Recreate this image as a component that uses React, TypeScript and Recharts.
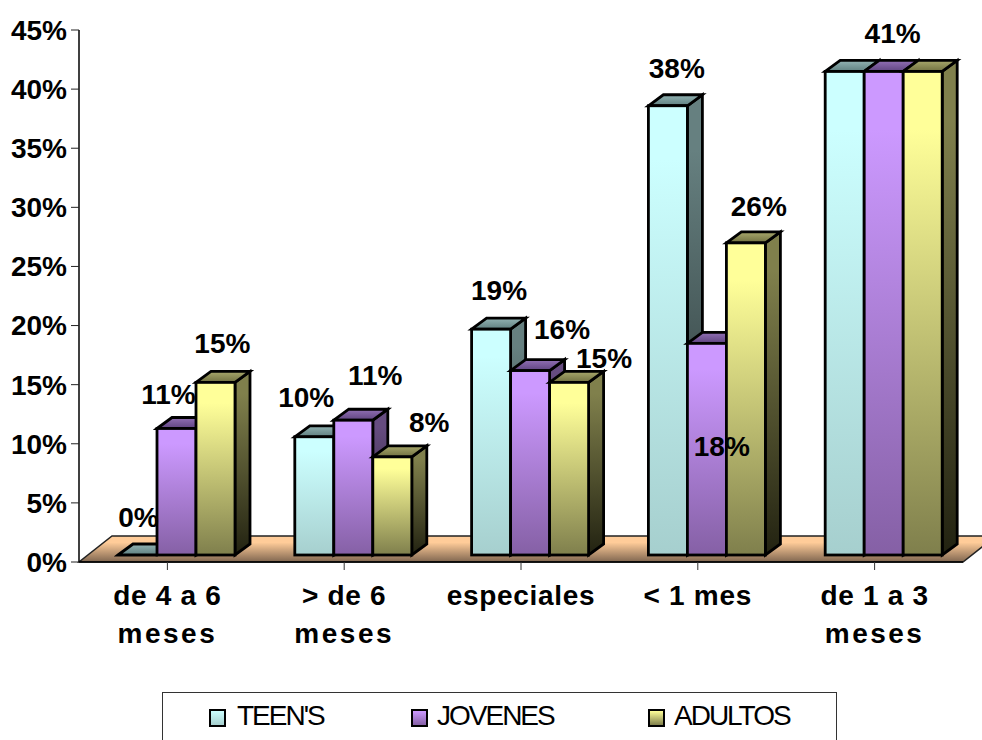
import { Bar, ComposedChart, Legend, Line, ReferenceArea, XAxis, YAxis } from 'recharts';

const categories = ['de 4 a 6 meses', '> de 6 meses', 'especiales', '< 1 mes', 'de 1 a 3 meses'];
const tickLines = [['de 4 a 6', 'meses'], ['> de 6', 'meses'], ['especiales'], ['< 1 mes'], ['de 1 a 3', 'meses']];
const yTicks = [0, 5, 10, 15, 20, 25, 30, 35, 40, 45];
const teens = [0, 10, 19.1, 38, 40.9];
const jovenes = [10.7, 11.4, 15.6, 17.9, 40.9];
const adultos = [14.6, 8.3, 14.6, 26.4, 40.9];

// hand placed labels, offset from the category centre and the value height
const teensNudge = [[-29, -45], [-38, -46], [-22, -46], [-21, -44], null];
const jovenesNudge = [[1, -41], [31, -52], [41, -48], [24, 96], [18, -45]];
const adultosNudge = [[55, -46], [85, -41], [83, -31], [61, -43], null];

const data = categories.map((name, i) => ({
  name,
  teens: teens[i],
  jovenes: jovenes[i],
  adultos: adultos[i],
}));

const FONT = '"Liberation Sans", Arial, sans-serif';
const DEPTH_X = 15;
const DEPTH_Y = 11;
const BAR_SHIFT_X = 9;
const BAR_SHIFT_Y = -7;

const palettes = [
  { id: 'teens', front: ['#CCFFFF', '#A6CFCE'], side: ['#668080', '#222B2B'], top: ['#93B3B3', '#5F8080'] },
  { id: 'jovenes', front: ['#CC99FF', '#8560A5'], side: ['#664C80', '#221A2B'], top: ['#9270B5', '#5F4480'] },
  { id: 'adultos', front: ['#FFFF99', '#7F7F4C'], side: ['#80804C', '#222211'], top: ['#A8A86C', '#707040'] },
];

const Gradient = ({ id, colors, hold = 0 }: any) => (
  <linearGradient id={id} x1="0" y1="0" x2="0" y2="1">
    <stop offset={hold} stopColor={colors[0]} />
    <stop offset="1" stopColor={colors[1]} />
  </linearGradient>
);

const Bar3D = (props: any) => {
  const { x, y, width, height, paletteId } = props;
  const left = x + BAR_SHIFT_X;
  const right = left + width;
  const top = y + BAR_SHIFT_Y;
  const bottom = top + height;
  const line = { stroke: '#000', strokeWidth: 2.8, strokeLinejoin: 'miter' as const };
  return (
    <g>
      <polygon
        points={`${right},${top} ${right + DEPTH_X},${top - DEPTH_Y} ${right + DEPTH_X},${bottom - DEPTH_Y} ${right},${bottom}`}
        fill={`url(#${paletteId}-side)`}
        {...line}
      />
      <polygon
        points={`${left},${top} ${left + DEPTH_X},${top - DEPTH_Y} ${right + DEPTH_X},${top - DEPTH_Y} ${right},${top}`}
        fill={`url(#${paletteId}-top)`}
        {...line}
      />
      <rect x={left} y={top} width={width} height={height} fill={`url(#${paletteId}-front)`} {...line} />
    </g>
  );
};

const Floor = (props: any) => {
  const { x, y, width, height } = props;
  const bottom = y + height;
  return (
    <polygon
      points={`${x},${bottom} ${x + width},${bottom} ${x + width + 33},${y} ${x + 33},${y}`}
      fill="url(#floor)"
      stroke="#222"
      strokeWidth={1.5}
    />
  );
};

const XTick = ({ x, y, index }: any) => (
  <g>
    {tickLines[index].map((t, i) => (
      <text
        key={t}
        x={x}
        y={y + 32.5 + i * 38}
        textAnchor="middle"
        fontFamily={FONT}
        fontWeight={700}
        fontSize={28}
        letterSpacing={t === 'meses' ? 2.5 : 0.7}
        fill="#000"
      >
        {t}
      </text>
    ))}
  </g>
);

const makeLabel = (nudges: any[]) => ({ x, y, value, index }: any) => {
  const nudge = nudges[index];
  if (!nudge) return null;
  return (
    <text
      x={x + nudge[0]}
      y={y + nudge[1]}
      textAnchor="middle"
      dominantBaseline="central"
      fontFamily={FONT}
      fontWeight={700}
      fontSize={28}
      fill="#000"
    >
      {Math.round(value)}%
    </text>
  );
};

const legendItems = [
  { name: "TEEN'S", swatch: 46, text: 74, colors: palettes[0].front },
  { name: 'JOVENES', swatch: 248, text: 274, colors: palettes[1].front },
  { name: 'ADULTOS', swatch: 485, text: 511, colors: palettes[2].front },
];

const LegendBox = () => (
  <div style={{ position: 'relative', width: 675, height: 60, border: '1px solid #333', boxSizing: 'border-box', background: '#fff' }}>
    {legendItems.map((item) => (
      <div key={item.name}>
        <span
          style={{
            position: 'absolute',
            left: item.swatch,
            top: 16,
            width: 13,
            height: 14,
            border: '2px solid #000',
            background: `linear-gradient(${item.colors[0]}, ${item.colors[1]})`,
          }}
        />
        <span
          style={{
            position: 'absolute',
            left: item.text,
            top: 5,
            fontFamily: FONT,
            fontSize: 28,
            lineHeight: '36px',
            letterSpacing: -2,
            color: '#000',
            whiteSpace: 'nowrap',
          }}
        >
          {item.name}
        </span>
      </div>
    ))}
  </div>
);

export default function App() {
  return (
    <div style={{ position: 'absolute', left: 0, top: 0, width: 982, height: 740, overflow: 'hidden', background: '#fff' }}>
      <ComposedChart
        width={982}
        height={740}
        data={data}
        margin={{ top: 30, right: 19, bottom: 88, left: 0 }}
        barSize={39}
        barGap={0}
      >
        <defs>
          {palettes.map((p) => (
            <g key={p.id}>
              <Gradient id={`${p.id}-front`} colors={p.front} hold={0.12} />
              <Gradient id={`${p.id}-side`} colors={p.side} hold={0.12} />
              <Gradient id={`${p.id}-top`} colors={p.top} />
            </g>
          ))}
          <Gradient id="floor" colors={['#FFCC99', '#806650']} hold={0.25} />
        </defs>
        <XAxis
          dataKey="name"
          height={30}
          interval={0}
          tick={<XTick />}
          tickSize={8}
          tickLine={{ stroke: '#333' }}
          axisLine={{ stroke: '#000', strokeWidth: 1.5 }}
        />
        <YAxis
          width={79}
          domain={[0, 45]}
          ticks={yTicks}
          interval={0}
          tickFormatter={(v) => `${v}%`}
          tickSize={8}
          tickMargin={4}
          tickLine={{ stroke: '#222' }}
          axisLine={{ stroke: '#000', strokeWidth: 1.5 }}
          tick={{ fontFamily: FONT, fontWeight: 700, fontSize: 28, fill: '#000' }}
        />
        <ReferenceArea y1={0} y2={2.2} ifOverflow="visible" shape={<Floor />} />
        <Bar dataKey="teens" isAnimationActive={false} shape={<Bar3D paletteId="teens" />} />
        <Bar dataKey="jovenes" isAnimationActive={false} shape={<Bar3D paletteId="jovenes" />} />
        <Bar dataKey="adultos" isAnimationActive={false} shape={<Bar3D paletteId="adultos" />} />
        <Line dataKey="teens" stroke="none" dot={false} legendType="none" isAnimationActive={false} label={makeLabel(teensNudge)} />
        <Line dataKey="jovenes" stroke="none" dot={false} legendType="none" isAnimationActive={false} label={makeLabel(jovenesNudge)} />
        <Line dataKey="adultos" stroke="none" dot={false} legendType="none" isAnimationActive={false} label={makeLabel(adultosNudge)} />
        <Legend content={<LegendBox />} wrapperStyle={{ position: 'absolute', left: 162, top: 692, bottom: 'auto', width: 675, height: 60 }} />
      </ComposedChart>
    </div>
  );
}
